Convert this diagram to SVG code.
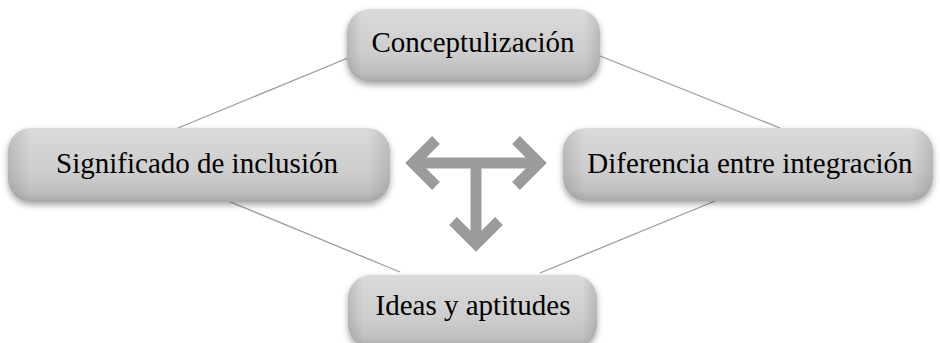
<svg xmlns="http://www.w3.org/2000/svg" width="940" height="343" viewBox="0 0 940 343">
<defs>
<linearGradient id="fillG" x1="0" y1="0" x2="0" y2="1">
<stop offset="0" stop-color="#dadada"/>
<stop offset="0.6" stop-color="#cdcdcd"/>
<stop offset="0.85" stop-color="#c0c0c0"/>
<stop offset="1" stop-color="#a9a9a9"/>
</linearGradient>
<linearGradient id="edgeG" x1="0" y1="0" x2="1" y2="0">
<stop offset="0" stop-color="#000" stop-opacity="0.12"/>
<stop offset="0.06" stop-color="#000" stop-opacity="0"/>
<stop offset="0.94" stop-color="#000" stop-opacity="0"/>
<stop offset="1" stop-color="#000" stop-opacity="0.12"/>
</linearGradient>
<filter id="shadow" x="-10%" y="-20%" width="120%" height="150%">
<feDropShadow dx="0" dy="3" stdDeviation="3" flood-color="#000" flood-opacity="0.35"/>
</filter>
</defs>
<style>
.box{fill:url(#fillG);filter:url(#shadow)}
.edge{fill:url(#edgeG)}
.lbl{font-family:"Liberation Serif","Times New Roman",serif;font-size:29px;fill:#000;text-anchor:middle}
.conn{stroke:#9c9c9c;stroke-width:1.3;fill:none}
.arr{stroke:#9b9b9b;stroke-width:11;fill:none;stroke-linejoin:miter;stroke-linecap:butt}
</style>
<g id="connectors">
<line class="conn" x1="178" y1="128" x2="360" y2="53"/>
<line class="conn" x1="590" y1="52" x2="780" y2="128"/>
<line class="conn" x1="228" y1="201" x2="400" y2="272"/>
<line class="conn" x1="715" y1="201" x2="540" y2="273"/>
</g>
<g id="arrow">
<path class="arr" d="M413 163 H539"/>
<path class="arr" d="M476 163 V244"/>
<path class="arr" d="M436 140 L413 163 L436 186"/>
<path class="arr" d="M516 140 L539 163 L516 186"/>
<path class="arr" d="M453 221 L476 244 L499 221"/>
</g>
<g id="node-top">
<rect class="box" x="347" y="9" width="253" height="73" rx="23"/>
<rect class="edge" x="347" y="9" width="253" height="73" rx="23"/>
<text class="lbl" x="473" y="52">Conceptulización</text>
</g>
<g id="node-left">
<rect class="box" x="8" y="128" width="382" height="74" rx="23"/>
<rect class="edge" x="8" y="128" width="382" height="74" rx="23"/>
<text class="lbl" x="197" y="173">Significado de inclusión</text>
</g>
<g id="node-right">
<rect class="box" x="563" y="128" width="370" height="73" rx="23"/>
<rect class="edge" x="563" y="128" width="370" height="73" rx="23"/>
<text class="lbl" x="750" y="173">Diferencia entre integración</text>
</g>
<g id="node-bottom">
<rect class="box" x="348" y="275" width="249" height="73" rx="23"/>
<rect class="edge" x="348" y="275" width="249" height="73" rx="23"/>
<text class="lbl" x="473" y="315">Ideas y aptitudes</text>
</g>
</svg>
